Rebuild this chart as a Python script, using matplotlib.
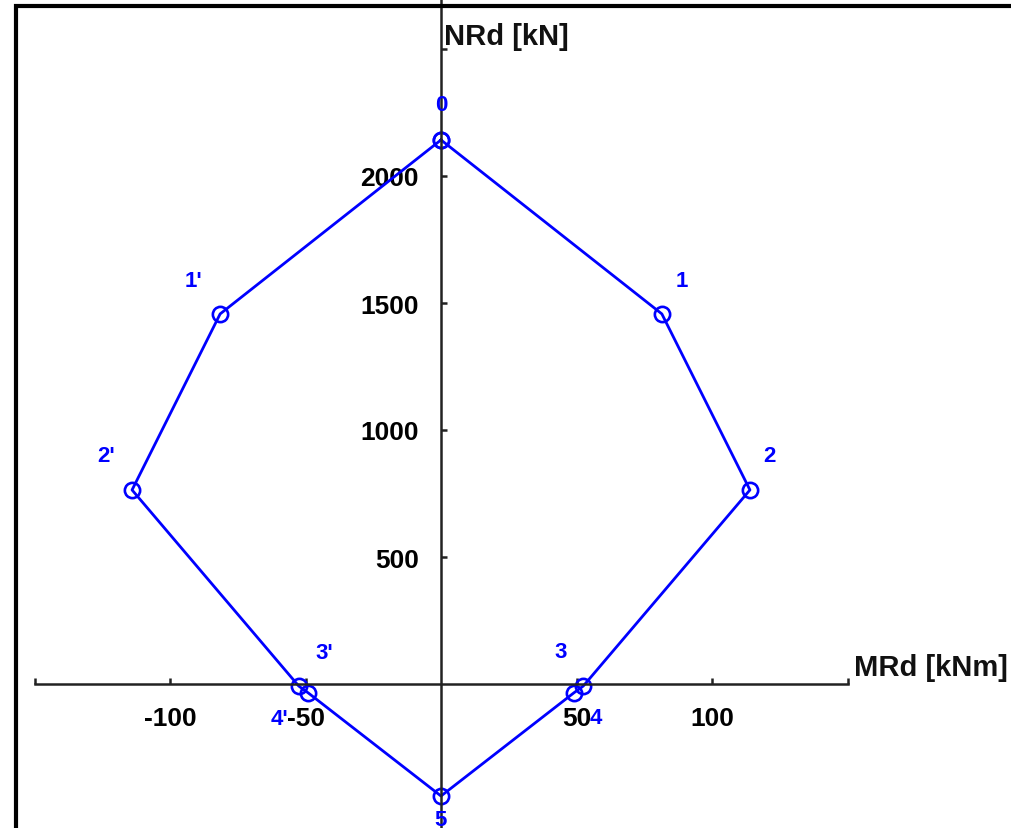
import matplotlib
matplotlib.use("Agg")
import matplotlib.pyplot as plt
from matplotlib.lines import Line2D

plt.rcParams['font.family'] = ['Liberation Sans', 'DejaVu Sans']
plt.rcParams['font.weight'] = 'bold'

# interaction polygon points (MRd [kNm], NRd [kN])
names = ['0', '1', '2', '3', '4', '5', "4'", "3'", "2'", "1'", '0']
m_rd = [0, 81.5, 114, 52.5, 49, 0, -49, -52.5, -114, -81.5, 0]
n_rd = [2142, 1457, 764, -8, -35, -441, -35, -8, 764, 1457, 2142]
# where each name sits relative to its point, in pixels
label_offsets = {'0': (0, 35), '1': (20, 33), '2': (19, 34), '3': (-23, 35),
                 '4': (22, -25), '5': (0, -23), "4'": (-29, -26),
                 "3'": (26, 34), "2'": (-26, 34), "1'": (-27, 33)}

x_ticks = [-150, -100, -50, 50, 100, 150]
x_tick_labels = ['', '-100', '-50', '50', '100', '']
y_ticks = [500, 1000, 1500, 2000, 2500]
y_tick_labels = ['500', '1000', '1500', '2000', '']

dpi = 100
fig = plt.figure(figsize=(10.12, 8.29), dpi=dpi)
ax = fig.add_axes([0, 0, 1, 1])
ax.set_xlim(-441 / 2.71, (1012 - 441) / 2.71)
ax.set_ylim(-(829 - 685) / 0.254, 685 / 0.254)

axis_col = '#222222'
for side in ['top', 'right']:
    ax.spines[side].set_visible(False)
ax.spines['left'].set_position('zero')
ax.spines['bottom'].set_position('zero')
ax.spines['bottom'].set_bounds(-150, 150)
for side in ['left', 'bottom']:
    ax.spines[side].set_linewidth(1.8)
    ax.spines[side].set_color(axis_col)

ax.set_xticks(x_ticks)
ax.set_xticklabels(x_tick_labels)
ax.set_yticks(y_ticks)
ax.set_yticklabels(y_tick_labels)
ax.tick_params(axis='both', direction='in', length=4, width=1.8,
               color=axis_col, labelsize=19, pad=16)

blue = '#0000ff'
ax.plot(m_rd, n_rd, color=blue, lw=2, marker='o', ms=11,
        mfc='none', mec=blue, mew=1.9)

for name, m, n in zip(names[:-1], m_rd[:-1], n_rd[:-1]):
    dx, dy = label_offsets[name]
    ax.annotate(name, (m, n), xytext=(dx * 72 / dpi, dy * 72 / dpi),
                textcoords='offset points', ha='center', va='center',
                color=blue, fontsize=16, fontweight='bold')

ax.text(1, 2550, 'NRd [kN]', ha='left', va='center', fontsize=21,
        fontweight='bold', color='#111111')
ax.text(152.5, 67, 'MRd [kNm]', ha='left', va='center', fontsize=21,
        fontweight='bold', color='#111111')

# window frame along the top and left edges
fx, fy = 16 / 1012, 1 - 6.5 / 829
fig.add_artist(Line2D([fx, fx, 1], [0, fy, fy], transform=fig.transFigure,
                      color='black', lw=3, solid_joinstyle='miter'))

fig.savefig('out.png', dpi=dpi)
